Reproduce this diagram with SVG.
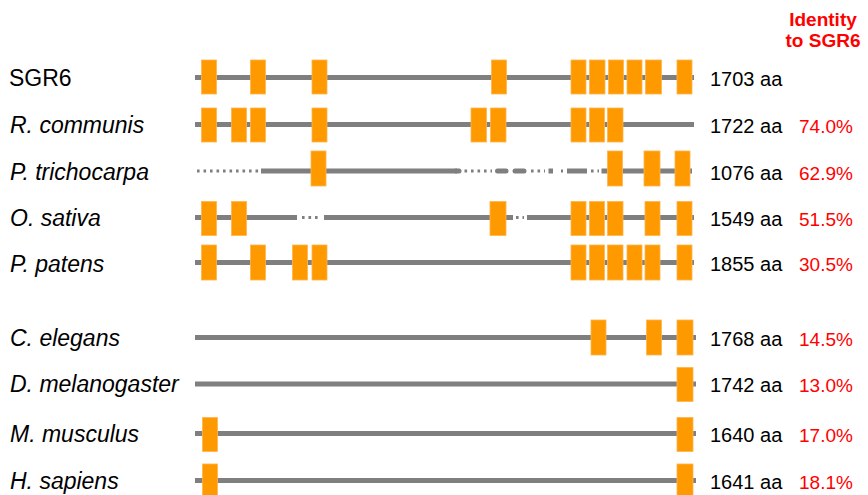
<svg xmlns="http://www.w3.org/2000/svg" width="868" height="495" viewBox="0 0 868 495">
<style>
text{font-family:"Liberation Sans",Arial,sans-serif}
.lab{font-size:23px;fill:#000}
.it{font-style:italic}
.aa{font-size:20px;fill:#000}
.pc{font-size:19px;fill:#ff0000}
.hd{font-size:19px;fill:#ff0000;font-weight:bold}
.ln{stroke:#7f7f7f;stroke-width:5;fill:none}
.rd{stroke:#7f7f7f;stroke-width:5;fill:none;stroke-linecap:round}
.dt{stroke:#7f7f7f;stroke-width:2.8;fill:none;stroke-dasharray:2.6 3.9}
.ex{fill:#ff9900;stroke:#ffb54d;stroke-width:0.8}
</style>
<rect width="868" height="495" fill="#fff"/>
<g id="header">
<text class="hd" x="823" y="26" text-anchor="middle">Identity</text>
<text class="hd" x="823" y="47" text-anchor="middle">to SGR6</text>
</g>
<g id="row-sgr6">
<text class="lab" x="9" y="86">SGR6</text>
<line class="ln" x1="195" y1="77.5" x2="694" y2="77.5"/>
<g transform="translate(0,60)">
<rect class="ex" x="201.5" y="0" width="15" height="34"/>
<rect class="ex" x="250.5" y="0" width="15" height="34"/>
<rect class="ex" x="312" y="0" width="15" height="34"/>
<rect class="ex" x="491.5" y="0" width="15" height="34"/>
<rect class="ex" x="571" y="0" width="15" height="34"/>
<rect class="ex" x="589.5" y="0" width="15.5" height="34"/>
<rect class="ex" x="608.5" y="0" width="15" height="34"/>
<rect class="ex" x="627" y="0" width="15" height="34"/>
<rect class="ex" x="645.5" y="0" width="16" height="34"/>
<rect class="ex" x="677" y="0" width="15" height="34"/>
</g>
<text class="aa" x="710" y="85.5">1703 aa</text>
</g>
<g id="row-rcommunis">
<text class="lab it" x="10" y="133">R. communis</text>
<line class="ln" x1="195" y1="124.5" x2="694" y2="124.5"/>
<g transform="translate(0,108)">
<rect class="ex" x="201.5" y="0" width="15" height="34"/>
<rect class="ex" x="231.5" y="0" width="15" height="34"/>
<rect class="ex" x="250.5" y="0" width="15" height="34"/>
<rect class="ex" x="312" y="0" width="15" height="34"/>
<rect class="ex" x="471" y="0" width="15.5" height="34"/>
<rect class="ex" x="490.5" y="0" width="15.5" height="34"/>
<rect class="ex" x="571" y="0" width="15" height="34"/>
<rect class="ex" x="589.5" y="0" width="15" height="34"/>
<rect class="ex" x="607.5" y="0" width="15.5" height="34"/>
</g>
<text class="aa" x="710" y="133">1722 aa</text>
<text class="pc" x="799" y="133">74.0%</text>
</g>
<g id="row-ptrichocarpa">
<text class="lab it" x="10" y="179.5">P. trichocarpa</text>
<line class="dt" x1="197" y1="171" x2="260" y2="171"/>
<line class="ln" x1="261" y1="171" x2="457" y2="171"/>
<line class="rd" x1="456" y1="171" x2="459" y2="171" stroke-width="4"/>
<line class="dt" x1="464.5" y1="171" x2="492" y2="171"/>
<line class="rd" x1="497.5" y1="171" x2="506" y2="171" stroke-width="5.5"/>
<line class="rd" x1="515" y1="171" x2="524" y2="171" stroke-width="5.5"/>
<line class="dt" x1="531" y1="171" x2="545" y2="171"/>
<line class="ln" x1="548.5" y1="171" x2="553" y2="171"/>
<line class="dt" x1="561" y1="171" x2="563" y2="171"/>
<line class="ln" x1="567" y1="171" x2="587" y2="171"/>
<line class="dt" x1="591" y1="171" x2="599" y2="171"/>
<line class="ln" x1="601.5" y1="171" x2="692" y2="171"/>
<g transform="translate(0,151)">
<rect class="ex" x="311" y="0" width="15" height="35"/>
<rect class="ex" x="607.5" y="0" width="15" height="35"/>
<rect class="ex" x="644" y="0" width="16" height="35"/>
<rect class="ex" x="675" y="0" width="15" height="35"/>
</g>
<text class="aa" x="710" y="179.5">1076 aa</text>
<text class="pc" x="799" y="179.5">62.9%</text>
</g>
<g id="row-osativa">
<text class="lab it" x="10" y="225.5">O. sativa</text>
<line class="ln" x1="195" y1="217.5" x2="297" y2="217.5"/>
<line class="dt" x1="302" y1="217.5" x2="321" y2="217.5"/>
<line class="ln" x1="324" y1="217.5" x2="513" y2="217.5"/>
<line class="dt" x1="516" y1="217.5" x2="524" y2="217.5"/>
<line class="ln" x1="527" y1="217.5" x2="694" y2="217.5"/>
<g transform="translate(0,201.5)">
<rect class="ex" x="201.5" y="0" width="15" height="34"/>
<rect class="ex" x="231.5" y="0" width="15" height="34"/>
<rect class="ex" x="490" y="0" width="16" height="34"/>
<rect class="ex" x="571" y="0" width="15" height="34"/>
<rect class="ex" x="589.5" y="0" width="15" height="34"/>
<rect class="ex" x="607.5" y="0" width="15.5" height="34"/>
<rect class="ex" x="645" y="0" width="15" height="34"/>
<rect class="ex" x="677" y="0" width="15" height="34"/>
</g>
<text class="aa" x="710" y="225.5">1549 aa</text>
<text class="pc" x="799" y="225.5">51.5%</text>
</g>
<g id="row-ppatens">
<text class="lab it" x="10" y="272">P. patens</text>
<line class="ln" x1="195" y1="262.5" x2="694" y2="262.5"/>
<g transform="translate(0,245)">
<rect class="ex" x="201.5" y="0" width="15" height="35"/>
<rect class="ex" x="250.5" y="0" width="15" height="35"/>
<rect class="ex" x="292.5" y="0" width="15" height="35"/>
<rect class="ex" x="312" y="0" width="15" height="35"/>
<rect class="ex" x="571" y="0" width="15" height="35"/>
<rect class="ex" x="589.5" y="0" width="15" height="35"/>
<rect class="ex" x="607.5" y="0" width="15.5" height="35"/>
<rect class="ex" x="627" y="0" width="15" height="35"/>
<rect class="ex" x="645" y="0" width="15" height="35"/>
<rect class="ex" x="677" y="0" width="15" height="35"/>
</g>
<text class="aa" x="710" y="271">1855 aa</text>
<text class="pc" x="799" y="271">30.5%</text>
</g>
<g id="row-celegans">
<text class="lab it" x="10" y="346">C. elegans</text>
<line class="ln" x1="195" y1="337.5" x2="696" y2="337.5"/>
<g transform="translate(0,320)">
<rect class="ex" x="591" y="0" width="15" height="35"/>
<rect class="ex" x="646.5" y="0" width="15" height="35"/>
<rect class="ex" x="677" y="0" width="16" height="35"/>
</g>
<text class="aa" x="710" y="346">1768 aa</text>
<text class="pc" x="799" y="346">14.5%</text>
</g>
<g id="row-dmelanogaster">
<text class="lab it" x="10" y="392">D. melanogaster</text>
<line class="ln" x1="195" y1="384" x2="696" y2="384"/>
<rect class="ex" x="677" y="367.5" width="16" height="34"/>
<text class="aa" x="710" y="392">1742 aa</text>
<text class="pc" x="799" y="392">13.0%</text>
</g>
<g id="row-mmusculus">
<text class="lab it" x="10" y="442">M. musculus</text>
<line class="ln" x1="195" y1="433.5" x2="696" y2="433.5"/>
<rect class="ex" x="202.5" y="417.5" width="15" height="34"/>
<rect class="ex" x="677" y="417.5" width="16" height="34"/>
<text class="aa" x="710" y="442">1640 aa</text>
<text class="pc" x="799" y="442">17.0%</text>
</g>
<g id="row-hsapiens">
<text class="lab it" x="10" y="488.5">H. sapiens</text>
<line class="ln" x1="195" y1="480.5" x2="696" y2="480.5"/>
<rect class="ex" x="202.5" y="464" width="15" height="34"/>
<rect class="ex" x="677" y="464" width="16" height="34"/>
<text class="aa" x="710" y="489">1641 aa</text>
<text class="pc" x="799" y="489">18.1%</text>
</g>
</svg>
